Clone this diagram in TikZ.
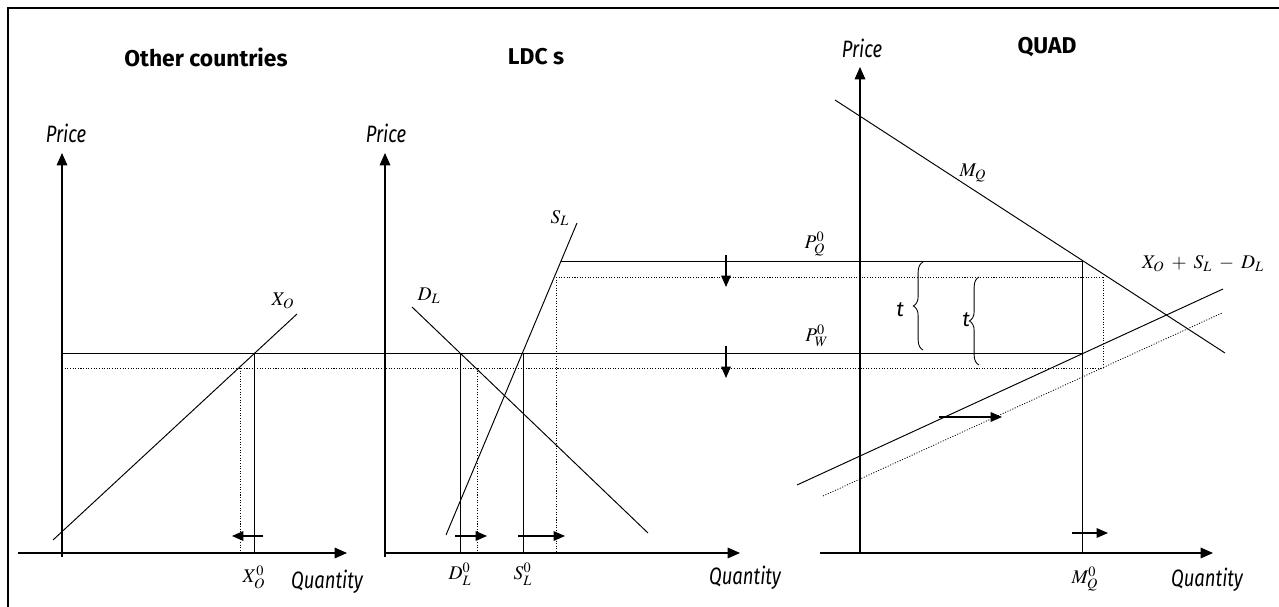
\documentclass[tikz,border=0pt]{standalone}
\usepackage{mathptmx}
\usepackage[no-math]{fontspec}
\setsansfont{Fira Sans}
\usepackage{tikz}
\usetikzlibrary{arrows.meta}
\usetikzlibrary{decorations.pathreplacing}

\begin{document}
\begin{tikzpicture}[x=0.02cm, y=-0.02cm,
    axisline/.style={line width=0.8pt, -{Triangle[length=7pt,width=6pt]}},
    curveline/.style={line width=0.55pt},
    guideline/.style={line width=0.45pt, dash pattern=on 0.6pt off 0.9pt},
    movearrow/.style={line width=0.65pt, -{Triangle[length=6.5pt,width=5.5pt]}},
    paneltitle/.style={font=\sffamily\bfseries\fontsize{13}{15}\selectfont},
    axlabel/.style={font=\sffamily\itshape\fontsize{13.5}{15}\selectfont, inner sep=0pt},
    mathlab/.style={font=\fontsize{11}{12}\selectfont, inner sep=0pt},
    tbrace/.style={decorate, decoration={brace, amplitude=5.5pt}, line width=0.5pt}]
\useasboundingbox (0,0) rectangle (1279,607);
\draw[line width=1pt] (8,607) -- (8,8) -- (1279,8);

% titles
\node[paneltitle] (tother) at (206,57) {Other countries};
\node[paneltitle] (tldc) at (536,57) {LDC s};
\node[paneltitle] (tquad) at (1047,47) {QUAD};

% axes
\draw[axisline] (62,557) -- (62,153);
\draw[axisline] (18,553) -- (347,553);
\draw[axisline] (385,557) -- (385,153);
\draw[axisline] (385,553) -- (740,553);
\draw[axisline] (860,553) -- (860,67);
\draw[axisline] (820,553) -- (1213,553);
\node[axlabel] (price1) at (66,133) {\scalebox{0.78}[1]{Price}};
\node[axlabel] (price2) at (386,133) {\scalebox{0.78}[1]{Price}};
\node[axlabel] (price3) at (862,48) {\scalebox{0.78}[1]{Price}};
\node[axlabel] (qty1) at (327,582) {\scalebox{0.78}[1]{Quantity}};
\node[axlabel] (qty2) at (745,578) {\scalebox{0.78}[1]{Quantity}};
\node[axlabel] (qty3) at (1207,580) {\scalebox{0.78}[1]{Quantity}};

% world prices
\draw[curveline] (62,353) -- (1082,353);
\draw[guideline] (62,368) -- (1103,368);
\draw[curveline] (561,261) -- (1082,261);
\draw[guideline] (556,277) -- (1103,277);
\node[mathlab] (pq) at (815,244) {$P_Q^0$};
\node[mathlab] (pw) at (817,336) {$P_W^0$};
\draw[movearrow] (726,255) -- (726,287);
\draw[movearrow] (726,346) -- (726,378);

% other countries
\draw[curveline] (53,540) -- (297,314);
\node[mathlab] (xo) at (283,301) {$X_O$};
\draw[curveline] (254,353) -- (254,553);
\draw[guideline] (240,368) -- (240,553);
\draw[movearrow] (263,536) -- (232,536);
\node[mathlab] (xo0) at (254,577) {$X_O^0$};

% LDCs
\draw[curveline] (412,307) -- (648,533);
\draw[curveline] (446,535) -- (577,223);
\node[mathlab] (dl) at (429,296) {$D_L$};
\node[mathlab] (sl) at (560,218) {$S_L$};
\draw[curveline] (460,353) -- (460,553);
\draw[guideline] (477,368) -- (477,553);
\draw[curveline] (523,353) -- (523,553);
\draw[guideline] (556,277) -- (556,553);
\draw[movearrow] (455,536) -- (487,536);
\draw[movearrow] (518,536) -- (565,536);
\node[mathlab] (dl0) at (460,574) {$D_L^0$};
\node[mathlab] (sl0) at (523,574) {$S_L^0$};

% QUAD
\draw[curveline] (835,100) -- (1225,353);
\node[mathlab] (mq) at (973,173) {$M_Q$};
\draw[curveline] (797,485) -- (1223,289);
\draw[guideline] (823,496) -- (1222,313);
\node[mathlab] (xsd) at (1203,264) {$X_O\;+\;S_L\;-\;D_L$};
\draw[movearrow] (939,417) -- (1002,417);
\draw[curveline] (1082,261) -- (1082,553);
\draw[guideline] (1103,277) -- (1103,368);
\draw[movearrow] (1072,533) -- (1108,533);
\node[mathlab] (mq0) at (1085,579) {$M_Q^0$};
\draw[tbrace] (923,350) -- (923,262);
\draw[tbrace] (979,365) -- (979,277);
\node[axlabel, font=\sffamily\itshape\fontsize{12}{13}\selectfont] (t1) at (900,310) {t};
\node[axlabel, font=\sffamily\itshape\fontsize{12}{13}\selectfont] (t2) at (966,320) {t};
\end{tikzpicture}
\end{document}
